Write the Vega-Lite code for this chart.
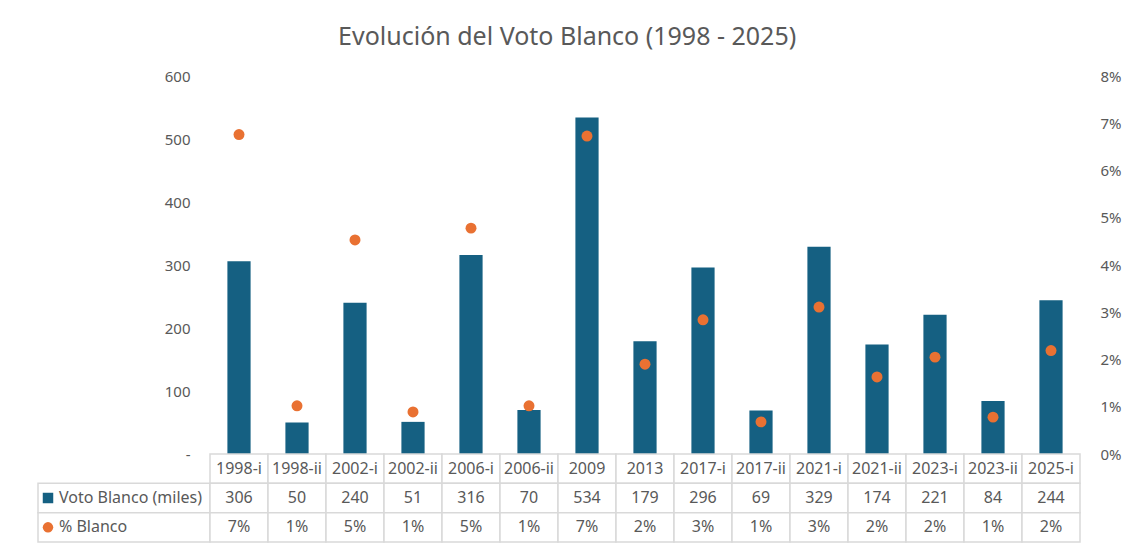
{
  "$schema": "https://vega.github.io/schema/vega-lite/v6.json",
  "background": "white",
  "padding": {"left": 37, "top": 25, "right": 10, "bottom": 5},
  "title": {
    "text": "Evolución del Voto Blanco (1998 - 2025)",
    "fontSize": 25,
    "fontWeight": "normal",
    "color": "#595959",
    "font": "Noto Sans",
    "anchor": "middle",
    "frame": "bounds",
    "dx": -12,
    "offset": 19
  },
  "datasets": {
    "elecciones": [
      {"eleccion": "1998-i", "votos": 306, "pct": 0.0676},
      {"eleccion": "1998-ii", "votos": 50, "pct": 0.0102},
      {"eleccion": "2002-i", "votos": 240, "pct": 0.0453},
      {"eleccion": "2002-ii", "votos": 51, "pct": 0.0089},
      {"eleccion": "2006-i", "votos": 316, "pct": 0.0478},
      {"eleccion": "2006-ii", "votos": 70, "pct": 0.0102},
      {"eleccion": "2009", "votos": 534, "pct": 0.0673},
      {"eleccion": "2013", "votos": 179, "pct": 0.019},
      {"eleccion": "2017-i", "votos": 296, "pct": 0.0284},
      {"eleccion": "2017-ii", "votos": 69, "pct": 0.0068},
      {"eleccion": "2021-i", "votos": 329, "pct": 0.0311},
      {"eleccion": "2021-ii", "votos": 174, "pct": 0.0163},
      {"eleccion": "2023-i", "votos": 221, "pct": 0.0205},
      {"eleccion": "2023-ii", "votos": 84, "pct": 0.0078},
      {"eleccion": "2025-i", "votos": 244, "pct": 0.0219}
    ],
    "filas": [
      {"fila": "Voto Blanco (miles)"},
      {"fila": "% Blanco"}
    ]
  },
  "columns": 2,
  "spacing": 0,
  "bounds": "flush",
  "align": "each",
  "concat": [
    {
      "width": 172,
      "height": 378,
      "data": {"values": []},
      "mark": "point"
    },
    {
      "width": 870,
      "height": 378,
      "data": {"name": "elecciones"},
      "encoding": {
        "x": {
          "field": "eleccion",
          "type": "ordinal",
          "sort": null,
          "scale": {"paddingInner": 0, "paddingOuter": 0},
          "axis": null
        }
      },
      "layer": [
        {
          "mark": {"type": "bar", "width": {"band": 0.4}, "color": "#156082"},
          "encoding": {
            "y": {
              "field": "votos",
              "type": "quantitative",
              "scale": {"domain": [0, 600]},
              "axis": {
                "orient": "left",
                "values": [0, 100, 200, 300, 400, 500, 600],
                "labelExpr": "datum.value == 0 ? '-' : datum.label",
                "domain": false,
                "ticks": false,
                "grid": false,
                "labelPadding": 20,
                "title": null
              }
            }
          }
        },
        {
          "mark": {"type": "point", "filled": true, "size": 120, "opacity": 1, "color": "#E97132"},
          "encoding": {
            "y": {
              "field": "pct",
              "type": "quantitative",
              "scale": {"domain": [0, 0.08]},
              "axis": {
                "orient": "right",
                "values": [0, 0.01, 0.02, 0.03, 0.04, 0.05, 0.06, 0.07, 0.08],
                "format": ".0%",
                "domain": false,
                "ticks": false,
                "grid": false,
                "labelAlign": "right",
                "labelPadding": 41,
                "title": null
              }
            }
          }
        }
      ],
      "resolve": {"scale": {"y": "independent"}}
    },
    {
      "width": 172,
      "height": 88,
      "data": {"name": "filas"},
      "encoding": {
        "y": {
          "field": "fila",
          "type": "ordinal",
          "scale": {
            "domain": ["cat", "Voto Blanco (miles)", "% Blanco"],
            "paddingInner": 0,
            "paddingOuter": 0
          },
          "axis": null
        }
      },
      "layer": [
        {
          "mark": {"type": "rect", "fill": "white", "stroke": "#d9d9d9", "strokeWidth": 1.5}
        },
        {
          "mark": {"type": "point", "filled": true, "opacity": 1, "size": 110, "xOffset": -76},
          "encoding": {
            "shape": {
              "field": "fila",
              "type": "nominal",
              "scale": {"domain": ["Voto Blanco (miles)", "% Blanco"], "range": ["square", "circle"]},
              "legend": null
            },
            "color": {
              "field": "fila",
              "type": "nominal",
              "scale": {"domain": ["Voto Blanco (miles)", "% Blanco"], "range": ["#156082", "#E97132"]},
              "legend": null
            }
          }
        },
        {
          "mark": {"type": "text", "align": "left", "dx": -65, "fontSize": 16, "color": "#595959", "font": "Noto Sans"},
          "encoding": {"text": {"field": "fila"}}
        }
      ]
    },
    {
      "width": 870,
      "height": 88,
      "data": {"name": "elecciones"},
      "encoding": {
        "x": {
          "field": "eleccion",
          "type": "ordinal",
          "sort": null,
          "scale": {"paddingInner": 0, "paddingOuter": 0},
          "axis": null
        }
      },
      "layer": [
        {
          "mark": {"type": "rect", "fill": "white", "stroke": "#d9d9d9", "strokeWidth": 1.5},
          "encoding": {"y": {"datum": "cat", "type": "ordinal", "scale": {"domain": ["cat", "Voto Blanco (miles)", "% Blanco"], "paddingInner": 0, "paddingOuter": 0}, "axis": null}}
        },
        {
          "mark": {"type": "rect", "fill": "white", "stroke": "#d9d9d9", "strokeWidth": 1.5},
          "encoding": {"y": {"datum": "Voto Blanco (miles)", "type": "ordinal"}}
        },
        {
          "mark": {"type": "rect", "fill": "white", "stroke": "#d9d9d9", "strokeWidth": 1.5},
          "encoding": {"y": {"datum": "% Blanco", "type": "ordinal"}}
        },
        {
          "mark": {"type": "text", "fontSize": 16, "color": "#595959", "font": "Noto Sans"},
          "encoding": {
            "y": {"datum": "cat", "type": "ordinal"},
            "text": {"field": "eleccion"}
          }
        },
        {
          "mark": {"type": "text", "fontSize": 16, "color": "#595959", "font": "Noto Sans"},
          "encoding": {
            "y": {"datum": "Voto Blanco (miles)", "type": "ordinal"},
            "text": {"field": "votos", "type": "quantitative", "format": "d"}
          }
        },
        {
          "mark": {"type": "text", "fontSize": 16, "color": "#595959", "font": "Noto Sans"},
          "encoding": {
            "y": {"datum": "% Blanco", "type": "ordinal"},
            "text": {"field": "pct", "type": "quantitative", "format": ".0%"}
          }
        }
      ]
    }
  ],
  "config": {
    "view": {"stroke": null},
    "axis": {"labelColor": "#595959", "labelFontSize": 15, "labelFont": "Noto Sans"}
  }
}
